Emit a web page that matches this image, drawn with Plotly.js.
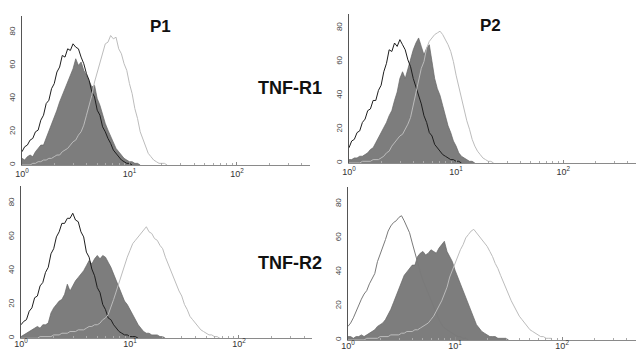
<!DOCTYPE html>
<html>
<head>
<meta charset="utf-8">
<script src="https://cdn.plot.ly/plotly-3.0.1.min.js"></script>
<style>html,body{margin:0;padding:0;background:#fff}#chart{width:636px;height:350px}</style>
</head>
<body>
<div id="chart"></div>
<script>
// Fluorescence channel values (log-spaced bins, 10^0 .. ~10^1.9)
const channels = [1.000,1.059,1.122,1.189,1.259,1.334,1.413,1.496,1.585,1.679,1.778,1.884,1.995,2.113,2.239,2.371,2.512,2.661,2.818,2.985,3.162,3.350,3.548,3.758,3.981,4.217,4.467,4.732,5.012,5.309,5.623,5.957,6.310,6.683,7.079,7.499,7.943,8.414,8.913,9.441,10.00,10.59,11.22,11.89,12.59,13.34,14.13,14.96,15.85,16.79,17.78,18.84,19.95,21.13,22.39,23.71,25.12,26.61,28.18,29.85,31.62,33.50,35.48,37.58,39.81,42.17,44.67,47.32,50.12,53.09,56.23,59.57,63.10,66.83,70.79,74.99,79.43];

// Panel P1 / TNF-R1
const p1Control = [8,11,12,15,16,20,21,27,30,37,39,46,49,56,59,66,65,70,69,73,71,70,65,61,55,51,44,41,33,30,23,20,16,13,9,7,5,3,2,1,1,0];
const p1Gray    = [4,3,5,6,5,8,10,12,12,16,20,24,28,33,38,42,46,50,55,58,64,60,62,57,54,50,47,48,40,36,30,25,21,17,14,10,8,6,4,3,2,2,1,1,0];
const p1Stim    = [0,0,0,0,1,1,2,2,3,3,4,4,5,6,6,8,9,10,12,14,15,18,20,24,30,36,42,50,56,62,68,73,74,78,76,77,70,67,61,57,49,43,34,28,20,16,11,7,5,3,2,1,1,1,0];

// Panel P2 / TNF-R1
const p2Control = [9,13,14,18,19,24,26,31,32,37,37,43,46,54,59,67,66,71,69,73,70,67,61,57,50,45,39,35,28,24,18,16,11,9,7,5,4,3,2,2,1,1,0];
const p2Gray    = [2,2,3,3,4,4,5,6,8,9,12,15,18,21,24,28,31,37,42,50,54,50,56,62,67,71,74,69,64,68,70,60,50,44,40,34,28,22,18,13,10,6,4,3,2,1,1,0];
const p2Stim    = [0,0,0,0,0,1,1,1,1,2,2,2,3,4,6,7,10,12,14,16,17,20,23,27,34,42,50,56,60,68,72,74,76,77,78,76,73,70,66,60,52,45,38,31,25,20,14,10,7,5,3,2,1,1,0];

// Panel P1 / TNF-R2
const p3Control = [8,10,11,16,18,24,25,31,33,39,42,50,53,60,63,68,68,71,71,74,70,69,63,60,51,48,41,37,30,27,20,17,12,11,8,6,4,3,2,2,1,1,1,0];
const p3Gray    = [1,2,3,4,5,6,7,6,8,8,9,15,18,20,22,23,26,32,28,31,34,36,38,40,43,46,44,47,49,47,49,48,45,42,38,34,31,27,22,20,17,14,11,8,6,4,3,3,2,2,2,1,1,0];
const p3Stim    = [0,0,0,0,0,0,0,1,1,1,1,1,2,2,2,3,3,3,4,4,4,5,5,5,6,7,7,8,8,9,11,12,14,18,23,28,33,39,43,48,52,56,58,60,62,64,66,63,62,59,58,55,53,48,44,39,35,32,28,25,20,17,13,11,9,7,5,4,3,2,2,1,1,0];

// Panel P2 / TNF-R2
const p4Control = [8,10,13,17,21,24,27,29,33,36,39,46,50,55,59,64,67,69,70,72,73,70,66,63,57,51,45,40,35,31,28,24,19,15,12,9,7,6,5,4,3,2,2,1,1,0];
const p4Gray    = [2,2,1,2,2,3,2,3,4,5,6,8,9,10,12,15,18,22,26,30,34,38,40,42,44,44,49,51,52,50,51,53,52,51,54,56,58,52,49,46,41,37,32,28,24,20,16,12,9,7,5,4,3,2,2,2,1,1,1,1,0];
const p4Stim    = [0,0,0,0,0,0,0,1,1,1,1,1,2,2,2,2,3,3,3,3,4,4,5,5,5,6,6,7,8,9,10,12,14,17,20,23,27,31,37,41,45,50,53,56,60,62,64,65,63,61,59,57,55,52,49,45,42,38,34,30,27,23,20,17,14,12,10,8,6,5,4,3,2,2,1,1,1];

const xTickVals = [1, 10, 100];
const xTickText = ['10<sup>0</sup>', '10<sup>1</sup>', '10<sup>2</sup>'];
const xMinorVals = [2,3,4,5,6,7,8,9,20,30,40,50,60,70,80,90,200,300,400];
const yTickVals = [0, 20, 40, 60, 80];

const panels = [
  {ctrl: p1Control, gray: p1Gray, stim: p1Stim, ctrlColor: '#1e1e1e'},
  {ctrl: p2Control, gray: p2Gray, stim: p2Stim, ctrlColor: '#1e1e1e'},
  {ctrl: p3Control, gray: p3Gray, stim: p3Stim, ctrlColor: '#1e1e1e'},
  {ctrl: p4Control, gray: p4Gray, stim: p4Stim, ctrlColor: '#7a7a7a'}
];

const traces = [];
panels.forEach((p, i) => {
  const xa = i === 0 ? 'x' : 'x' + (i + 1);
  const ya = i === 0 ? 'y' : 'y' + (i + 1);
  traces.push({x: channels.slice(0, p.gray.length), y: p.gray, xaxis: xa, yaxis: ya, type: 'scatter', mode: 'lines',
    fill: 'tozeroy', fillcolor: '#7d7d7d', line: {color: '#666666', width: 0.7}, hoverinfo: 'skip'});
  traces.push({x: channels.slice(0, p.ctrl.length), y: p.ctrl, xaxis: xa, yaxis: ya, type: 'scatter', mode: 'lines',
    line: {color: p.ctrlColor, width: 1}, hoverinfo: 'skip'});
  traces.push({x: channels.slice(0, p.stim.length), y: p.stim, xaxis: xa, yaxis: ya, type: 'scatter', mode: 'lines',
    line: {color: '#bcbcbc', width: 1}, hoverinfo: 'skip'});
});

const W = 636, H = 350;
function xAxis(x0, x1, r, anchor, standoff) {
  return {type: 'log', domain: [x0 / W, x1 / W], range: [0, r], anchor: anchor,
    showline: true, linecolor: '#8a8a8a', linewidth: 1, showgrid: false, zeroline: false,
    tickmode: 'array', tickvals: xTickVals, ticktext: xTickText,
    ticks: 'inside', ticklen: 3, tickcolor: '#8a8a8a', tickwidth: 1, ticklabelstandoff: standoff,
    minor: {tickmode: 'array', tickvals: xMinorVals, ticks: 'inside', ticklen: 2, tickcolor: '#aaaaaa', showgrid: false},
    tickfont: {family: 'Liberation Sans, Arial, sans-serif', size: 9, color: '#333'}, fixedrange: true};
}
function yAxis(base, top, r, anchor) {
  return {domain: [(H - base) / H, (H - top) / H], range: [0, r], anchor: anchor,
    showline: true, linecolor: '#555555', linewidth: 1, showgrid: false, zeroline: false,
    tickmode: 'array', tickvals: yTickVals, ticks: '', tickangle: -90, ticklabelstandoff: 3,
    tickfont: {family: 'Liberation Sans, Arial, sans-serif', size: 8, color: '#444'}, fixedrange: true};
}

const boldFont = {family: 'Liberation Sans, Arial, sans-serif', size: 17, color: '#111'};
const layout = {
  width: W, height: H, margin: {l: 0, r: 0, t: 0, b: 0},
  paper_bgcolor: '#ffffff', plot_bgcolor: 'rgba(0,0,0,0)', showlegend: false,
  xaxis:  xAxis(22, 310, 2.68, 'y', 0),
  yaxis:  yAxis(165, 15.6, 90, 'x'),
  xaxis2: xAxis(349, 636, 2.68, 'y2', 0),
  yaxis2: yAxis(163, 14.3, 88, 'x2'),
  xaxis3: xAxis(21, 312, 2.67, 'y3', -3),
  yaxis3: yAxis(338.3, 186.2, 90, 'x3'),
  xaxis4: xAxis(348, 636, 2.69, 'y4', -3),
  yaxis4: yAxis(340, 186.8, 90, 'x4'),
  annotations: [
    {text: '<b>P1</b>', x: 160.5 / W, y: 1 - 26 / H, xref: 'paper', yref: 'paper', showarrow: false, xanchor: 'center', yanchor: 'middle', font: boldFont},
    {text: '<b>P2</b>', x: 490.5 / W, y: 1 - 25.5 / H, xref: 'paper', yref: 'paper', showarrow: false, xanchor: 'center', yanchor: 'middle', font: boldFont},
    {text: '<b>TNF-R1</b>', x: 289.5 / W, y: 1 - 88 / H, xref: 'paper', yref: 'paper', showarrow: false, xanchor: 'center', yanchor: 'middle', font: Object.assign({}, boldFont, {size: 18})},
    {text: '<b>TNF-R2</b>', x: 289.5 / W, y: 1 - 263 / H, xref: 'paper', yref: 'paper', showarrow: false, xanchor: 'center', yanchor: 'middle', font: Object.assign({}, boldFont, {size: 18})}
  ]
};

Plotly.newPlot('chart', traces, layout, {staticPlot: true, displayModeBar: false});
</script>
</body>
</html>
